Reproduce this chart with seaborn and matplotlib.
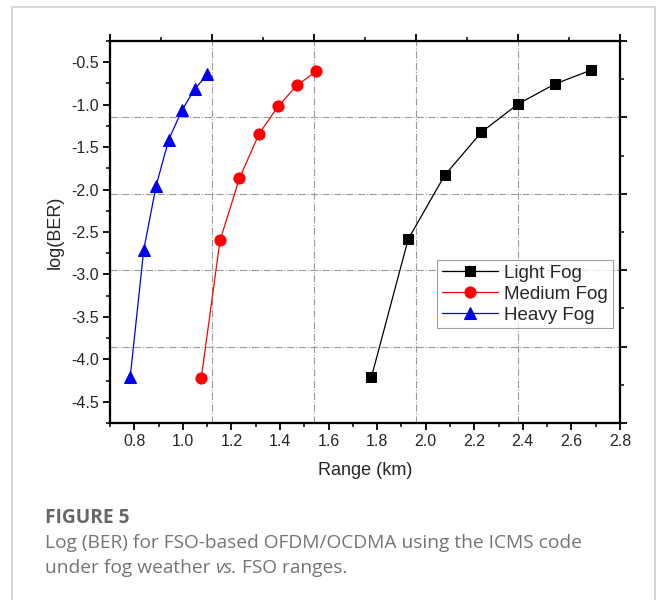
import matplotlib
matplotlib.use("Agg")
import matplotlib.pyplot as plt
import seaborn as sns
import pandas as pd
import numpy as np
from matplotlib.patches import Rectangle

# ---- data ----
light_x = [1.776, 1.928, 2.078, 2.229, 2.380, 2.531, 2.680]
light_y = [-4.214, -2.584, -1.833, -1.325, -0.993, -0.758, -0.594]
medium_x = [1.076, 1.153, 1.233, 1.313, 1.393, 1.470, 1.550]
medium_y = [-4.218, -2.600, -1.868, -1.348, -1.016, -0.773, -0.606]
heavy_x = [0.783, 0.839, 0.890, 0.942, 0.996, 1.048, 1.101]
heavy_y = [-4.214, -2.709, -1.954, -1.411, -1.067, -0.820, -0.644]
series_names = ["Light Fog", "Medium Fog", "Heavy Fog"]
x_ticks = [0.8, 1.0, 1.2, 1.4, 1.6, 1.8, 2.0, 2.2, 2.4, 2.6, 2.8]
y_ticks = [-0.5, -1.0, -1.5, -2.0, -2.5, -3.0, -3.5, -4.0, -4.5]

sns.set_theme(style="white")
plt.rcParams['font.family'] = ['Liberation Sans', 'DejaVu Sans']

fig = plt.figure(figsize=(6.59, 6.0), dpi=100)
fig.patch.set_facecolor("white")
# outer light-gray frame
fig.add_artist(Rectangle((12/659, -0.01), (655-12)/659, 1 - 7/600 + 0.01,
                         transform=fig.transFigure, fill=False,
                         edgecolor="#d6d6d6", linewidth=1.5))

ax = fig.add_axes([110/659, 1-423/600, (620-110)/659, (423-41)/600])

xlim = (0.7, 2.8)
ylim = (-4.75, -0.25)

# secondary axes (top/right) that carry the grid
twx = ax.twiny()
twy = ax.twinx()
for t in (twx, twy):
    t.set_zorder(0)
ax.set_zorder(2)
ax.patch.set_visible(False)

twx.set_xlim(*xlim)
top_major = np.linspace(xlim[0], xlim[1], 6)
top_minor = (top_major[:-1] + top_major[1:]) / 2
twx.set_xticks(top_major)
twx.set_xticks(top_minor, minor=True)
twx.set_xticklabels([])
twx.grid(True, axis="x", which="major", color="#9a9a9a", linestyle="-.", linewidth=0.8)

twy.set_ylim(*ylim)
right_major = np.linspace(ylim[0], ylim[1], 6)
right_minor = (right_major[:-1] + right_major[1:]) / 2
twy.set_yticks(right_major)
twy.set_yticks(right_minor, minor=True)
twy.set_yticklabels([])
twy.grid(True, axis="y", which="major", color="#9a9a9a", linestyle="-.", linewidth=0.8)

for t in (twx, twy):
    t.tick_params(which="major", length=5, width=1.3, color="black", direction="out")
    t.tick_params(which="minor", length=3, width=1.1, color="black", direction="out")
    for s in t.spines.values():
        s.set_linewidth(1.5)
        s.set_color("black")

df_l = pd.DataFrame({"x": light_x, "y": light_y})
df_m = pd.DataFrame({"x": medium_x, "y": medium_y})
df_h = pd.DataFrame({"x": heavy_x, "y": heavy_y})

sns.lineplot(data=df_l, x="x", y="y", ax=ax, color="black", marker="s",
             markersize=7, markeredgecolor="black", linewidth=0.9, label=series_names[0])
sns.lineplot(data=df_m, x="x", y="y", ax=ax, color="red", marker="o",
             markersize=8, markeredgecolor="red", linewidth=0.9, label=series_names[1])
sns.lineplot(data=df_h, x="x", y="y", ax=ax, color="#0000ee", marker="^",
             markersize=8.5, markeredgecolor="#0000ee", linewidth=0.9, label=series_names[2])

ax.set_xlim(*xlim)
ax.set_ylim(*ylim)
ax.set_xticks(x_ticks)
ax.set_xticklabels([f"{v:.1f}" for v in x_ticks])
ax.set_xticks(np.arange(0.7, 2.81, 0.1), minor=True)
ax.set_yticks(y_ticks)
ax.set_yticklabels([f"{v:.1f}" for v in y_ticks])
ax.set_yticks(np.arange(-4.75, -0.24, 0.25), minor=True)
ax.tick_params(which="major", length=5, width=1.3, color="black", direction="out",
               labelsize=11.5, pad=3, bottom=True, left=True)
ax.tick_params(which="minor", length=3, width=1.1, color="black", direction="out",
               bottom=True, left=True)
for s in ax.spines.values():
    s.set_linewidth(1.5)
    s.set_color("black")
ax.grid(False)

ax.set_xlabel("Range (km)", fontsize=13, labelpad=9)
ax.set_ylabel("log(BER)", fontsize=13, labelpad=5)

leg = ax.legend(loc="upper left", bbox_to_anchor=((437-110)/510, 1-(260-41)/382),
                fontsize=13.5, frameon=True, fancybox=False, handlelength=3.0,
                borderpad=0.25, labelspacing=0.2, handletextpad=0.35,
                borderaxespad=0)
leg.get_frame().set_edgecolor("#888888")
leg.get_frame().set_linewidth(0.8)

cap_font = ['Open Sans', 'DejaVu Sans']
cap_color = "#747474"
fig.text(45/659, 1-518/600, "FIGURE 5", fontsize=13.8, fontweight="bold",
         color="#666666", family=cap_font, va="center", ha="left")
fig.text(45/659, 1-543/600, "Log (BER) for FSO-based OFDM/OCDMA using the ICMS code",
         fontsize=13.8, color=cap_color, family=cap_font, va="center", ha="left")

# second caption line with italic "vs."
fig.canvas.draw()
renderer = fig.canvas.get_renderer()
x0 = 45/659
parts = [("under fog weather ", "normal"), ("vs.", "italic"), (" FSO ranges.", "normal")]
for txt, style in parts:
    t = fig.text(x0, 1-568/600, txt, fontsize=13.8, color=cap_color, family=cap_font,
                 style=style, va="center", ha="left")
    bb = t.get_window_extent(renderer=renderer)
    x0 = bb.x1 / fig.bbox.width

fig.savefig("out.png", dpi=100, facecolor="white")
